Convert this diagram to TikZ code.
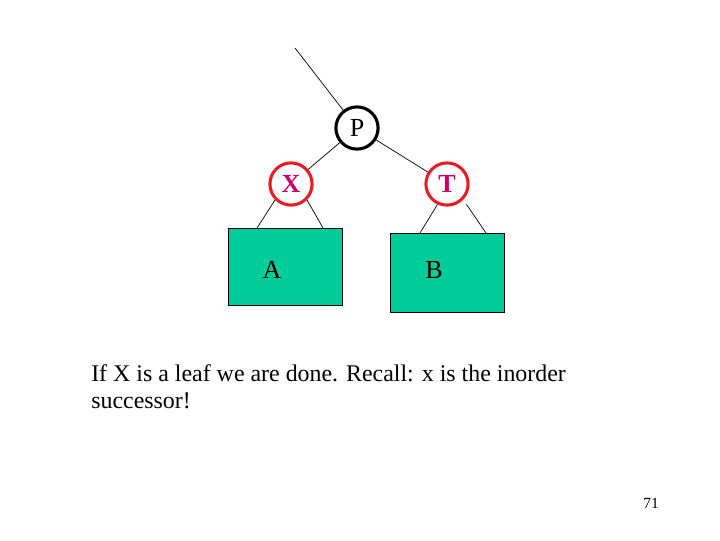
\documentclass[tikz,border=0pt]{standalone}
\usepackage{fontspec}
\setmainfont{Liberation Serif}
\usepackage{tikz}
\usetikzlibrary{positioning}
\definecolor{leafgreen}{RGB}{0,204,153}
\definecolor{nodered}{RGB}{228,30,36}
\definecolor{keymagenta}{RGB}{204,0,102}

\begin{document}
\begin{tikzpicture}[
        x=0.025cm, y=-0.025cm,
        every node/.style={font=\fontsize{18.5}{21}\selectfont},
        blacknode/.style={draw=black, circle, line width=2.2pt, minimum size=30pt, inner sep=0pt, fill=white},
        rednode/.style={draw=nodered, circle, line width=2.2pt, minimum size=30pt, inner sep=0pt, fill=white, text=keymagenta, font=\fontsize{18.5}{21}\selectfont\bfseries},
        subtree/.style={draw=black, rectangle, fill=leafgreen, inner sep=0pt},
        edge/.style={draw=black, line width=0.5pt}
    ]
        \useasboundingbox (0,0) rectangle (720,540);

        \node[blacknode] (P) at (357,128) {P};
        \node[rednode] (X) at (291,184) {X};
        \node[rednode] (T) at (447,184) {T};

        \node[subtree, minimum width=114*0.025cm, minimum height=77*0.025cm] (A) at (285,266.5) {};
        \node[subtree, minimum width=114*0.025cm, minimum height=79*0.025cm] (B) at (447,272.5) {};
        \node (Alabel) at (272,270) {A};
        \node (Blabel) at (434,270) {B};

        \coordinate (up) at (295,48);
        \coordinate (a1) at (257,228);
        \coordinate (a2) at (323,228);
        \coordinate (b1) at (420,233);
        \coordinate (b2) at (486,233);

        \draw[edge] (up) -- (P);
        \draw[edge] (P) -- (X);
        \draw[edge] (P) -- (T);
        \draw[edge] (X.225) -- (a1);
        \draw[edge] (X.315) -- (a2);
        \draw[edge] (T.245) -- (b1);
        \draw[edge, shorten <=4pt] (T.316) -- (b2);

        \node[anchor=north west, align=left, inner sep=0pt, font=\fontsize{17}{19.2}\selectfont] (remark) at (91,364)
            {If X is a leaf we are done. Recall: x is the inorder\\successor!};
        \node[font=\fontsize{11}{13}\selectfont] (page) at (651,503) {71};
    \end{tikzpicture}
\end{document}
